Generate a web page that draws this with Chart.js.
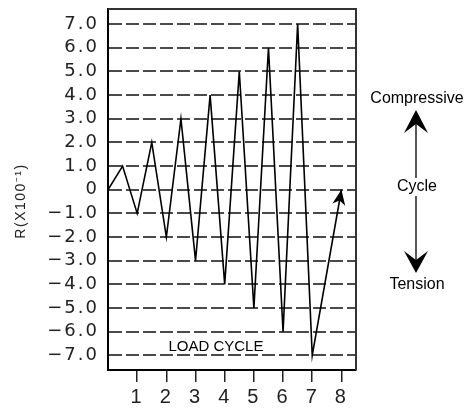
<!DOCTYPE html>
<html>
<head>
<meta charset="utf-8">
<script src="https://cdn.jsdelivr.net/npm/chart.js@4.4.1/dist/chart.umd.min.js"></script>
<style>
html, body { margin: 0; padding: 0; background: #fff; }
</style>
</head>
<body>
<canvas id="cyclecanvas" width="470" height="409"></canvas>
<script>
// load cycle positions and the resistance change at each turning point
var cycles = [0, 0.5, 1, 1.5, 2, 2.5, 3, 3.5, 4, 4.5, 5, 5.5, 6, 6.5, 7, 8];
var rValues = [0, 1, -1, 2, -2, 3, -3, 4, -4, 5, -5, 6, -6, 7, -7, 0];
var cycleTicks = [1, 2, 3, 4, 5, 6, 7, 8];
var rTicks = [-7, -6, -5, -4, -3, -2, -1, 0, 1, 2, 3, 4, 5, 6, 7];

var points = [];
for (var i in cycles) {
	points.push({x: cycles[i], y: rValues[i]});
}

function fmtR(v) {
	if (v === 0) return '0';
	return v.toFixed(1).replace('-', '\u2212');
}

// barbed arrow head, tip at (tx, ty) pointing along angle a
function arrowHead(ctx, tx, ty, a, len, half, notch) {
	ctx.save();
	ctx.translate(tx, ty);
	ctx.rotate(a);
	ctx.beginPath();
	ctx.moveTo(0, 0);
	ctx.lineTo(-len, half);
	ctx.lineTo(-len + notch, 0);
	ctx.lineTo(-len, -half);
	ctx.closePath();
	ctx.fill();
	ctx.restore();
}

var extras = {
	id: 'extras',
	beforeDraw: function(chart) {
		chart.ctx.letterSpacing = '2px';
	},
	beforeDatasetsDraw: function(chart) {
		chart.ctx.letterSpacing = '0px';
	},
	afterDatasetsDraw: function(chart) {
		var ctx = chart.ctx;
		var pts = chart.getDatasetMeta(0).data;
		var a = pts[pts.length - 2], b = pts[pts.length - 1];
		ctx.fillStyle = '#000';
		arrowHead(ctx, b.x, b.y, Math.atan2(b.y - a.y, b.x - a.x), 15, 6.5, 4);
	},
	afterDraw: function(chart) {
		var ctx = chart.ctx;
		var area = chart.chartArea;
		var xs = chart.scales.x, ys = chart.scales.y;
		ctx.save();
		ctx.letterSpacing = '0px';

		// top and right edges of the frame
		ctx.strokeStyle = '#333';
		ctx.lineWidth = 2;
		ctx.beginPath();
		ctx.moveTo(area.left, area.top);
		ctx.lineTo(area.right, area.top);
		ctx.lineTo(area.right, area.bottom);
		ctx.stroke();

		ctx.fillStyle = '#000';
		ctx.textAlign = 'center';
		ctx.textBaseline = 'middle';

		// axis captions
		ctx.font = '15px "Liberation Sans", Arial, sans-serif';
		ctx.fillText('LOAD CYCLE', xs.getPixelForValue(3.7), ys.getPixelForValue(-6.65));

		ctx.save();
		ctx.translate(21, 201);
		ctx.rotate(-Math.PI / 2);
		ctx.font = '14px "Liberation Sans", Arial, sans-serif';
		ctx.letterSpacing = '1.5px';
		ctx.fillStyle = '#222';
		ctx.fillText('R(X100\u207B\u00B9)', 0, 0);
		ctx.restore();

		// compressive / tension key at the right
		var kx = 417;
		ctx.font = '16px "Liberation Sans", Arial, sans-serif';
		ctx.fillText('Compressive', kx, 99);
		ctx.fillText('Cycle', kx, 187);
		ctx.fillText('Tension', kx, 285);

		ctx.strokeStyle = '#000';
		ctx.lineWidth = 1.3;
		ctx.beginPath();
		ctx.moveTo(kx - 1, 124);
		ctx.lineTo(kx - 1, 178);
		ctx.moveTo(kx - 1, 196);
		ctx.lineTo(kx - 1, 260);
		ctx.stroke();
		arrowHead(ctx, kx - 1, 110, -Math.PI / 2, 23, 12, 9);
		arrowHead(ctx, kx - 1, 273, Math.PI / 2, 22, 12, 9);
		ctx.restore();
	}
};

var ctx = document.getElementById('cyclecanvas');

var cycleChart = new Chart(ctx, {
	type: 'line',
	data: {
		datasets: [
			{
				label: 'R',
				data: points,
				borderColor: '#000',
				borderWidth: 1.6,
				pointRadius: 0,
				tension: 0,
				fill: false
			}
		]
	},
	options: {
		responsive: false,
		animation: false,
		layout: {
			padding: {top: 9, right: 114, left: 0, bottom: 0}
		},
		plugins: {
			legend: {display: false},
			tooltip: {enabled: false}
		},
		scales: {
			x: {
				type: 'linear',
				min: 0,
				max: 8.5,
				afterBuildTicks: function(scale) {
					scale.ticks = cycleTicks.map(function(v) { return {value: v}; });
				},
				afterFit: function(scale) {
					scale.height = 39;
					scale.paddingLeft = 0;
					scale.paddingRight = 0;
				},
				grid: {
					drawOnChartArea: false,
					drawTicks: true,
					tickLength: 12,
					color: '#222',
					lineWidth: 1.5
				},
				border: {display: true, color: '#000', width: 2},
				ticks: {
					color: '#222',
					padding: 3,
					maxRotation: 0,
					font: {family: '"Liberation Sans", Arial, sans-serif', size: 20}
				}
			},
			y: {
				type: 'linear',
				min: -7.62,
				max: 7.64,
				afterBuildTicks: function(scale) {
					scale.ticks = rTicks.map(function(v) { return {value: v}; });
				},
				afterFit: function(scale) {
					scale.width = 108;
					scale.paddingTop = 0;
					scale.paddingBottom = 0;
				},
				grid: {
					drawTicks: false,
					color: '#4a4a4a',
					lineWidth: 2
				},
				border: {display: true, color: '#000', width: 2, dash: [13, 4]},
				ticks: {
					color: '#222',
					padding: 9,
					callback: function(v) { return fmtR(v); },
					font: {family: '"DejaVu Sans", sans-serif', size: 18}
				}
			}
		}
	},
	plugins: [extras]
});
</script>
</body>
</html>
